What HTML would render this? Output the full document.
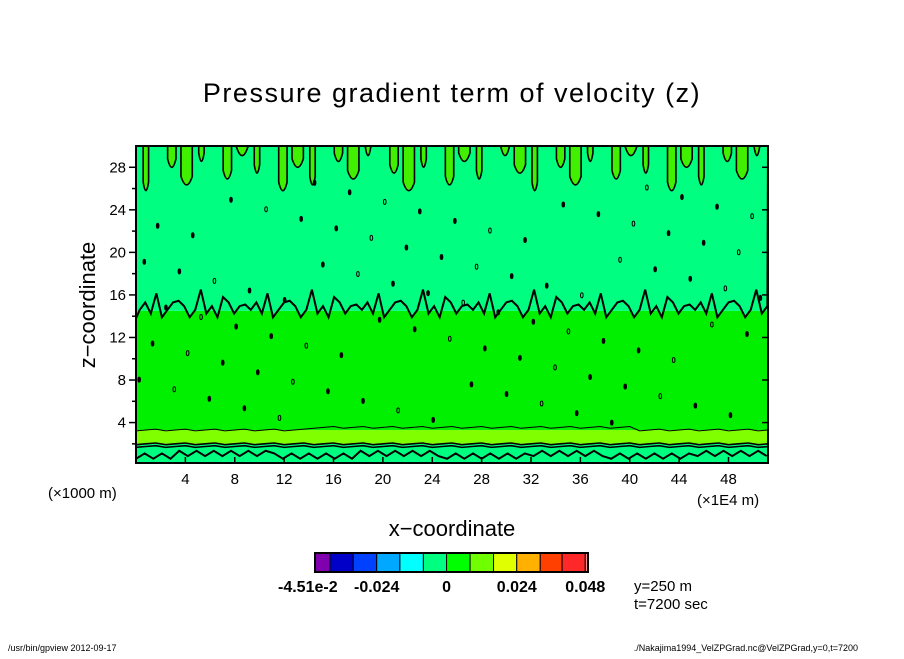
<!DOCTYPE html>
<html><head><meta charset="utf-8"><style>
body{margin:0;background:#fff;width:904px;height:654px;overflow:hidden;font-family:"Liberation Sans",sans-serif}
svg text{font-family:"Liberation Sans",sans-serif}
</style></head><body>
<svg id="chart" width="904" height="654">
<text x="452" y="102" font-size="27" letter-spacing="1.5" text-anchor="middle">Pressure gradient term of velocity (z)</text>
<defs><clipPath id="pc"><rect x="136" y="146" width="632" height="317"/></clipPath></defs>
<g id="plot" clip-path="url(#pc)"></g>
<g id="axes"></g>
<text x="48" y="498" font-size="15">(×1000 m)</text>
<text x="697" y="505" font-size="15">(×1E4 m)</text>
<text x="452" y="536" font-size="22" text-anchor="middle">x−coordinate</text>
<text transform="translate(95,305) rotate(-90)" font-size="22" text-anchor="middle">z−coordinate</text>
<g id="cbar"></g>
<text x="634" y="591" font-size="15">y=250 m</text>
<text x="634" y="609" font-size="15">t=7200 sec</text>
<text x="8" y="651" font-size="9">/usr/bin/gpview   2012-09-17</text>
<text x="858" y="651" font-size="9" text-anchor="end">./Nakajima1994_VelZPGrad.nc@VelZPGrad,y=0,t=7200</text>
</svg>
<script>
const xTicks=[4,8,12,16,20,24,28,32,36,40,44,48];
const yTicks=[4,8,12,16,20,24,28];
const bandLevels=[0,2.0,3.3,14.5,30];
const bandColors=["#00ff80","#80ff00","#00f000","#00ff80"];
const cbColors=["#8000b0","#0000c8","#0040ff","#00a8ff","#00ffff","#00ff80","#00ff00","#70ff00","#e0ff00","#ffb000","#ff4000","#ff2828","#ff9090"];
const cbEdges=[0,0.055,0.14,0.226,0.311,0.397,0.482,0.568,0.654,0.739,0.825,0.905,0.99,1];
const cbLabels=[["-4.51e-2",0],["-0.024",0.226],["0",0.482],["0.024",0.739],["0.048",0.99]];
const X0=136,X1=768,Y0=463,Y1=146,xmin=0,xmax=51.2,zmin=0.2,zmax=30;
const sx=v=>X0+(v-xmin)/(xmax-xmin)*(X1-X0);
const sy=v=>Y0-(v-zmin)/(zmax-zmin)*(Y0-Y1);
const NS="http://www.w3.org/2000/svg";
function mk(tag,attrs,parent){const e=document.createElementNS(NS,tag);for(const k in attrs)e.setAttribute(k,attrs[k]);parent.appendChild(e);return e;}
const plot=document.getElementById('plot'),axes=document.getElementById('axes'),cb=document.getElementById('cbar');
for(let i=0;i<bandColors.length;i++){
  const r=mk('rect',{x:X0,y:sy(bandLevels[i+1]),width:X1-X0,height:sy(bandLevels[i])-sy(bandLevels[i+1]),fill:bandColors[i]},plot);
  
  
}
let p=`M${X0},${sy(13.8)}`;
for(let x=0.3;x<=51.2;x+=0.45){const k=Math.round(x/0.45);const h=13.9+((k*7)%5)*0.35+((k*3)%4===0?1.2:0);p+=` L${sx(x)},${sy(h)}`;}
p+=` L${X1},${sy(30)} L${X0},${sy(30)}Z`;
const jag=mk('path',{d:p,fill:"#00ff80",stroke:"#000","stroke-width":2},plot);


for(let i=0;i<34;i++){const x=0.8+i*1.5+((i*5)%3)*0.3;const w=0.22+((i*7)%3)*0.12;const d=25.8+((i*11)%7)*0.55;
  const s=mk('path',{d:`M${sx(x-w)},${sy(30.5)} L${sx(x-w)},${sy(d+0.8)} Q${sx(x)},${sy(d-0.8)} ${sx(x+w)},${sy(d+0.8)} L${sx(x+w)},${sy(30.5)}Z`,fill:"#40f000",stroke:"#000","stroke-width":1.6},plot);
  
  }
[2.0,1.75,3.3].forEach((z,i)=>{let q=`M${X0},${sy(z)}`;for(let x=0;x<=51.2;x+=0.8){q+=` L${sx(x)},${sy(z+(((Math.round(x*5))%3)-1)*0.08+(i==2&&x>14&&x<40?0.25:0))}`;}
  const l=mk('path',{d:q,fill:"none",stroke:"#000","stroke-width":i==2?1:1.6},plot);
  
  });
let q=`M${X0},${sy(0.6)}`;for(let x=0;x<=51.2;x+=0.7){q+=` L${sx(x)},${sy(0.6+((Math.round(x*3))%4)*0.25)}`;}
const bl=mk('path',{d:q,fill:"none",stroke:"#000","stroke-width":2},plot);


for(let i=1;i<90;i++){const x=((i*0.6180339)%1)*51;const z=3.8+((i*0.7548776)%1)*23;
  const d=mk('ellipse',{cx:sx(x),cy:sy(z),rx:1.3,ry:2.5,fill:(i%3==0?"none":"#000"),stroke:"#000","stroke-width":1},plot);
  
  }
mk('rect',{x:X0,y:Y1,width:X1-X0,height:Y0-Y1,fill:"none",stroke:"#000","stroke-width":2},axes);
xTicks.forEach(v=>{const t=mk('text',{x:sx(v),y:484,"font-size":15,"text-anchor":"middle"},axes);t.textContent=v;
  
  
  mk('line',{x1:sx(v),x2:sx(v),y1:Y0,y2:Y0-6,stroke:"#000","stroke-width":1.5},axes);});
yTicks.forEach(v=>{const t=mk('text',{x:126,y:sy(v)+5,"font-size":15,"text-anchor":"end"},axes);t.textContent=v;
  
  
  mk('line',{x1:X0,x2:X0-7,y1:sy(v),y2:sy(v),stroke:"#000","stroke-width":1.5},axes);
  mk('line',{x1:X0,x2:X0-4,y1:sy(v-2),y2:sy(v-2),stroke:"#000","stroke-width":1.5},axes);
  mk('line',{x1:X1,x2:X1-6,y1:sy(v),y2:sy(v),stroke:"#000","stroke-width":1.5},axes);});
const CX0=315,CX1=588,CY=553,CH=19;
for(let i=0;i<cbColors.length;i++){const r=mk('rect',{x:CX0+cbEdges[i]*(CX1-CX0),y:CY,width:(cbEdges[i+1]-cbEdges[i])*(CX1-CX0),height:CH,fill:cbColors[i],stroke:"#000","stroke-width":1},cb);
  
  }
mk('rect',{x:CX0,y:CY,width:CX1-CX0,height:CH,fill:"none",stroke:"#000","stroke-width":2},cb);
cbLabels.forEach(([s,f])=>{const t=mk('text',{x:CX0+f*(CX1-CX0),y:592,"font-size":16,"font-weight":"bold","text-anchor":f==0?"start":"middle"},cb);t.textContent=s;
  if(f==0)t.setAttribute('x',CX0-37);
  
  });
</script>
</body></html>
